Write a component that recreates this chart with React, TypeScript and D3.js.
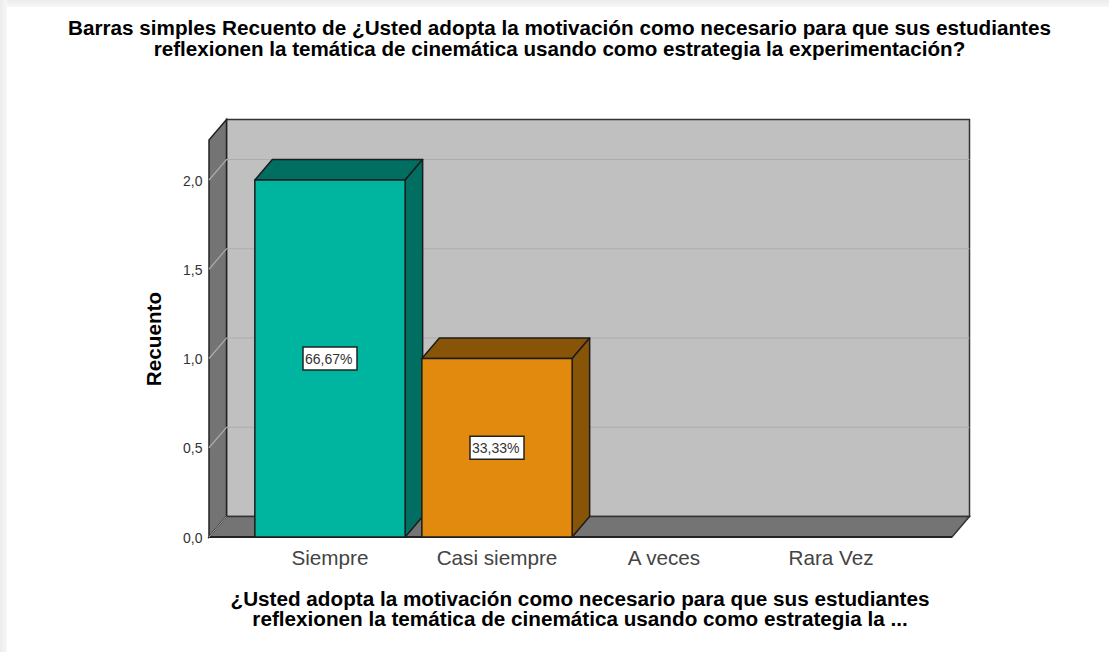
import React from "react";
import * as d3 from "d3";

const categories = ["Siempre", "Casi siempre", "A veces", "Rara Vez"];
const counts = [2, 1, 0, 0];
const percentLabels = ["66,67%", "33,33%", "", ""];
const yTicks = [0, 0.5, 1, 1.5, 2];
const titleLines = [
  "Barras simples Recuento de ¿Usted adopta la motivación como necesario para que sus estudiantes",
  "reflexionen la temática de cinemática usando como estrategia la experimentación?",
];
const xTitleLines = [
  "¿Usted adopta la motivación como necesario para que sus estudiantes",
  "reflexionen la temática de cinemática usando como estrategia la ...",
];
const yTitle = "Recuento";
const faceColors = ["#00b5a0", "#e18a0e", "#888", "#888"];
const sideColors = ["#006e60", "#875408", "#555", "#555"];

const W = 1109, H = 652;
const FONT = "'Liberation Sans', Arial, sans-serif";
const dx = 17.5, dy = -20.5;
const left = 209, right = 952, bottom = 537, top = 140;

const x = d3.scaleBand<string>().domain(categories).range([246.5, 914.5]).paddingInner(0.1).paddingOuter(0.05);
const y = d3.scaleLinear().domain([0, 2]).range([537, 180]);
const pts = (a: number[][]) => a.map((p) => p.join(",")).join(" ");
const fmt = (v: number) => v.toFixed(1).replace(".", ",");
const edge = "#1c1c1c";

export default function App() {
  return (
    <svg width={W} height={H} style={{ position: "fixed", left: 0, top: 0, background: "#fff" }} fontFamily={FONT}>
      <defs>
        <linearGradient id="shT" x1="0" y1="0" x2="0" y2="1">
          <stop offset="0" stopColor="#ececec" />
          <stop offset="1" stopColor="#f7f7f7" />
        </linearGradient>
        <linearGradient id="shL" x1="0" y1="0" x2="1" y2="0">
          <stop offset="0" stopColor="#ececec" />
          <stop offset="1" stopColor="#f7f7f7" />
        </linearGradient>
      </defs>
      <rect x={0} y={0} width={W} height={7} fill="url(#shT)" />
      <rect x={0} y={0} width={7} height={H} fill="url(#shL)" />

      {/* back wall */}
      <rect x={left + dx} y={top + dy} width={right - left} height={bottom - top} fill="#c0c0c0" stroke="#333" strokeWidth={1.5} />
      {/* left wall */}
      <polygon
        points={pts([[left, top], [left + dx, top + dy], [left + dx, bottom + dy], [left, bottom]])}
        fill="#747474" stroke="#222" strokeWidth={1.5}
      />
      {/* floor */}
      <polygon
        points={pts([[left, bottom], [left + dx, bottom + dy], [right + dx, bottom + dy], [right, bottom]])}
        fill="#747474" stroke="#333" strokeWidth={1.5}
      />
      <line x1={left} x2={right} y1={bottom} y2={bottom} stroke="#222" strokeWidth={2} />

      {/* gridlines */}
      {yTicks.filter((t) => t > 0).map((t) => (
        <g key={t} stroke="#acacac" strokeWidth={1.2} fill="none">
          <polyline points={pts([[left, y(t)], [left + dx, y(t) + dy], [right + dx, y(t) + dy]])} />
        </g>
      ))}
      <line x1={left} y1={bottom} x2={left + dx} y2={bottom + dy} stroke="#a9a9a9" strokeWidth={1} />

      {/* y ticks */}
      {yTicks.map((t) => (
        <text key={t} x={202.5} y={y(t) + 5.5} textAnchor="end" fontSize={14} fill="#333">{fmt(t)}</text>
      ))}

      {/* bars */}
      {categories.map((c, i) => {
        if (counts[i] <= 0) return null;
        const x0 = x(c)!, x1 = x0 + x.bandwidth(), yt = y(counts[i]);
        return (
          <g key={c} stroke={edge} strokeWidth={1.5} strokeLinejoin="round">
            <polygon points={pts([[x0, yt], [x0 + dx, yt + dy], [x1 + dx, yt + dy], [x1, yt]])} fill={sideColors[i]} />
            <polygon points={pts([[x1, yt], [x1 + dx, yt + dy], [x1 + dx, bottom + dy], [x1, bottom]])} fill={sideColors[i]} />
            <rect x={x0} y={yt} width={x1 - x0} height={bottom - yt} fill={faceColors[i]} />
          </g>
        );
      })}

      {/* value labels */}
      {categories.map((c, i) => {
        if (!percentLabels[i]) return null;
        const cx = x(c)! + x.bandwidth() / 2, cy = y(counts[i] / 2);
        return (
          <g key={c}>
            <rect x={cx - 27} y={cy - 11.5} width={54} height={23} fill="#fff" stroke="#222" strokeWidth={1.5} />
            <text x={cx - 1.2} y={cy + 5} textAnchor="middle" fontSize={14} fill="#333">{percentLabels[i]}</text>
          </g>
        );
      })}

      {/* x labels */}
      {categories.map((c) => (
        <text key={c} x={x(c)! + x.bandwidth() / 2} y={565} textAnchor="middle" fontSize={20.7} fill="#444">{c}</text>
      ))}

      {titleLines.map((l, i) => (
        <text key={i} x={559.5} y={35 + i * 20.6} textAnchor="middle" fontSize={i === 0 ? 20.7 : 20.6} fontWeight="bold" fill="#000">{l}</text>
      ))}
      {xTitleLines.map((l, i) => (
        <text key={i} x={580} y={605.7 + i * 20.6} textAnchor="middle" fontSize={20.7} fontWeight="bold" fill="#000">{l}</text>
      ))}
      <text transform="translate(160.5,339) rotate(-90)" textAnchor="middle" fontSize={20.7} fontWeight="bold" fill="#000">{yTitle}</text>
    </svg>
  );
}
